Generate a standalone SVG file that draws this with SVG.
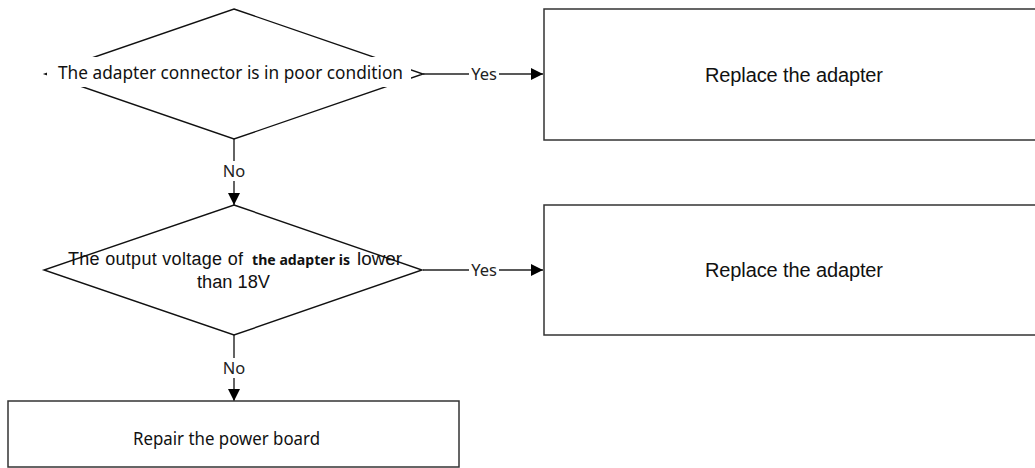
<svg xmlns="http://www.w3.org/2000/svg" width="1035" height="468" viewBox="0 0 1035 468">
<defs>
<marker id="arr" viewBox="0 0 12 12" refX="12" refY="6" markerWidth="12" markerHeight="12" markerUnits="userSpaceOnUse" orient="auto">
<path d="M0,0 L12,6 L0,12 Z" fill="#000"/>
</marker>
<style>
.dia{fill:none;stroke:#111;stroke-width:1.4}
.box{fill:#fff;stroke:#333;stroke-width:1.5}
.ln{stroke:#222;stroke-width:1.4;fill:none}
.arial{font-family:"Liberation Sans",Arial,sans-serif;fill:#111}
.humanist{font-family:"Noto Sans","Open Sans",sans-serif;fill:#111}
.lbl{font-family:"Noto Sans","Open Sans",sans-serif;font-size:16.5px;fill:#222;text-anchor:middle}
</style>
</defs>
<rect width="1035" height="468" fill="#fff"/>
<g id="connectors">
<line class="ln" x1="423" y1="74" x2="543" y2="74" marker-end="url(#arr)"/>
<rect x="469" y="65" width="30" height="18" fill="#fff"/>
<text class="lbl" x="484" y="80">Yes</text>
<line class="ln" x1="423" y1="270" x2="543" y2="270" marker-end="url(#arr)"/>
<rect x="469" y="261" width="30" height="18" fill="#fff"/>
<text class="lbl" x="484" y="276">Yes</text>
<line class="ln" x1="234" y1="139" x2="234" y2="205" marker-end="url(#arr)"/>
<rect x="221" y="161" width="26" height="20" fill="#fff"/>
<text class="lbl" x="234" y="177">No</text>
<line class="ln" x1="234" y1="335" x2="234" y2="401" marker-end="url(#arr)"/>
<rect x="221" y="358" width="26" height="20" fill="#fff"/>
<text class="lbl" x="234" y="374">No</text>
</g>
<g id="decision1">
<polygon class="dia" points="234,9 423,74 234,139 45,74"/>
<rect x="47" y="57" width="364" height="30" fill="#fff"/>
<text class="humanist" x="58" y="79" font-size="18" textLength="345" lengthAdjust="spacingAndGlyphs">The adapter connector is in poor condition</text>
</g>
<g id="decision2">
<polygon class="dia" points="234,205 422,270 234,335 44,270"/>
<text class="arial" x="68" y="265" font-size="18" textLength="175" lengthAdjust="spacing">The output voltage of</text>
<text class="humanist" x="252" y="265" font-size="14" font-weight="bold" textLength="98" lengthAdjust="spacingAndGlyphs">the adapter is</text>
<text class="arial" x="357" y="265" font-size="18" textLength="45" lengthAdjust="spacingAndGlyphs">lower</text>
<text class="arial" x="197" y="288" font-size="18" textLength="73" lengthAdjust="spacingAndGlyphs">than 18V</text>
</g>
<g id="action1">
<rect class="box" x="544" y="9" width="520" height="131"/>
<text class="arial" x="705" y="82" font-size="20" textLength="178" lengthAdjust="spacing">Replace the adapter</text>
</g>
<g id="action2">
<rect class="box" x="544" y="205" width="520" height="130"/>
<text class="arial" x="705" y="277" font-size="20" textLength="178" lengthAdjust="spacing">Replace the adapter</text>
</g>
<g id="action3">
<rect class="box" x="8" y="401" width="451" height="66"/>
<text class="humanist" x="133" y="445" font-size="18" textLength="187" lengthAdjust="spacingAndGlyphs">Repair the power board</text>
</g>
</svg>
